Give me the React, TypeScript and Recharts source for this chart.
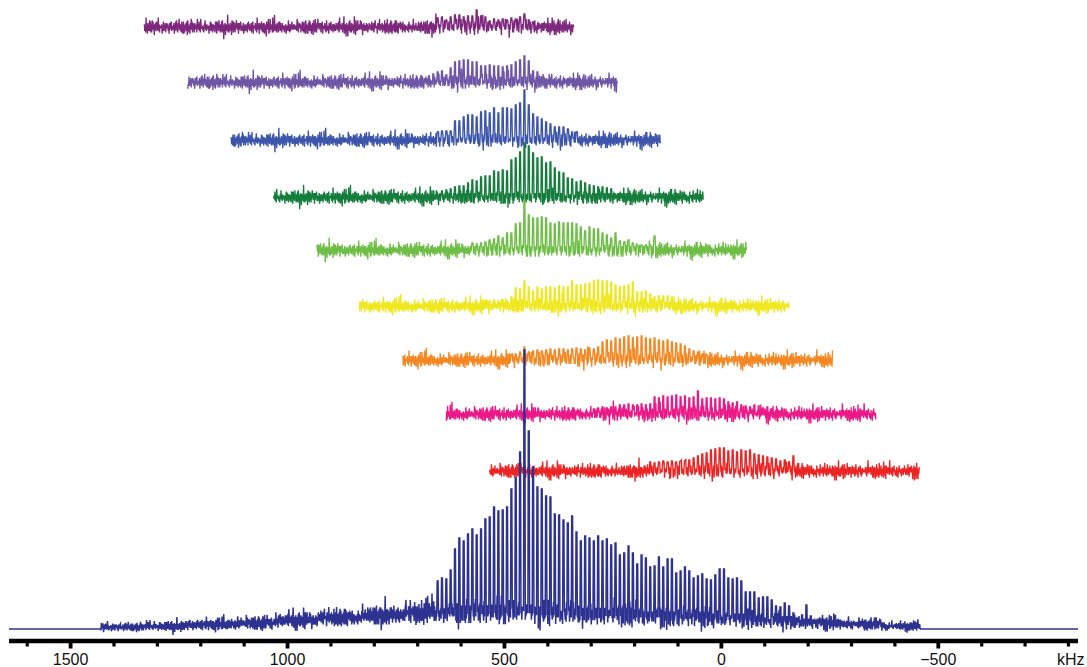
import { LineChart, Line, XAxis, YAxis, Label } from "recharts";

// frequency window of the stack (kHz)
const AXIS_MIN = -822;
const AXIS_MAX = 1642;
const AXIS_TICKS = [
  -800, -700, -600, -500, -400, -300, -200, -100, 0, 100, 200, 300, 400, 500,
  600, 700, 800, 900, 1000, 1100, 1200, 1300, 1400, 1500, 1600,
];

// centre band and spinning sideband spacing (kHz)
const CENTRE_KHZ = 454;
const SPIN_KHZ = 10;

// baseline noise, arbitrary units: fast part and a slower part of another length
const NOISE = [
  2, -3, 1, -4, 4, -1, 2, -5, 3, -2, 1, -3, 5, -2, 0, -4, 2, -3, 3, -1,
  4, -2, 1, -6, 2, -1, 3, -4, 2, 0, 1, -3, 6, -2, 2, -4, 1, -2, 3, -1,
  2, -5, 1, -2, 4, -3, 2, -1, 3, -4, 0, -2, 5, -1, 2, -3, 1, -5, 3, -2,
  2, -1, 4, -3, 1, -4, 2, -2, 3, -5, 1, -1, 2, -3, 4, -2, 1, -4, 3, -1,
  6, -2, 2, -3, 1, -1, 3, -4, 2, -2, 4, -5, 1, -2, 2, -1, 3, -3, 1, -4,
  5, -2, 2, -3, 1, -5, 3, -1, 2, -2, 4, -3, 1, -1, 2, -4, 3, -2, 1, -3,
  2, -5, 4, -1, 1, -2, 3, -3, 2, -4, 6, -1, 2, -2, 1, -3, 3, -4, 2, -1,
  7, -2, 1, -3, 2, -4, 3, -2, 1, -5, 2, -1, 4, -3, 2, -2, 1, -4, 3, -1,
];
const DRIFT = [
  0, 0, 1, 0, -1, 0, 0, 2, 0, 0, -1, 0, 3, 0, 0, -2, 0, 1, 0, 0, -3, 0, 0, 1,
  0, 0, 0, -1, 2, 0, 0, 0, -3, 0, 1, 0, 0, 2, 0, -1, 0, 0, 4, 0, -2, 0, 0,
];

// stacked spectra, top to bottom: start frequency of each window (kHz)
const TRACE_STARTS = [1330, 1230, 1130, 1032, 932, 834, 734, 634, 534];
const TRACE_WIDTH = 990;

// sideband intensities, listed from sideband order FIRST downwards
const PURPLE_FIRST = 20;
const PURPLE_PEAKS = [9, 10, 7, 10, 12, 12, 10, 11, 11, 17, 11, 10, 6, 8, 7, 8, 7, 9, 8, 10, 13, 7, 5];

const LAVENDER_FIRST = 22;
const LAVENDER_PEAKS = [6, 8, 10, 11, 7, 14, 20, 21, 22, 22, 20, 20, 16, 16, 17, 16, 16, 15, 16, 17, 20, 22, 26, 21, 11, 10, 5];

const BLUE_FIRST = 20;
const BLUE_PEAKS = [8, 9, 9, 9, 19, 19, 23, 25, 25, 23, 28, 29, 27, 32, 27, 32, 32, 31, 35, 37, 50, 35, 26, 23, 21, 18, 16, 13, 13, 13, 11, 8, 8];

const GREEN_FIRST = 19;
const GREEN_PEAKS = [6, 7, 8, 10, 11, 11, 14, 17, 16, 20, 21, 21, 26, 25, 27, 26, 37, 39, 45, 54, 51, 44, 39, 40, 34, 35, 29, 25, 24, 19, 18, 15, 16, 14, 12, 11, 10, 10, 9, 8];

const LIME_FIRST = 12;
const LIME_PEAKS = [7, 6, 7, 8, 10, 11, 14, 12, 17, 17, 26, 27, 50, 35, 32, 32, 33, 32, 27, 26, 28, 27, 27, 27, 26, 23, 19, 23, 21, 21, 17, 15, 12, 17, 9, 8, 10, 7, 5, 5, 5, 5, 14];

const YELLOW_FIRST = 9;
const YELLOW_PEAKS = [5, 5, 6, 5, 6, 5, 9, 18, 17, 25, 19, 15, 19, 17, 19, 19, 18, 20, 19, 19, 25, 21, 21, 22, 23, 25, 26, 25, 25, 24, 21, 19, 20, 21, 24, 14, 14, 15, 12, 9, 10, 10, 10, 9];

const ORANGE_FIRST = 3;
const ORANGE_PEAKS = [5, 6, 8, 13, 8, 9, 10, 9, 10, 11, 10, 11, 11, 10, 11, 12, 11, 10, 12, 11, 13, 18, 20, 19, 22, 21, 23, 24, 22, 23, 24, 22, 21, 22, 20, 19, 20, 18, 17, 16, 14, 11, 9, 8, 6, 5];

const PINK_FIRST = -16;
const PINK_PEAKS = [5, 6, 7, 6, 7, 7, 9, 9, 10, 9, 9, 10, 9, 10, 17, 16, 18, 17, 18, 19, 17, 18, 16, 17, 23, 15, 16, 16, 15, 16, 15, 12, 11, 12, 9, 8, 7, 9, 8, 6, 7, 5];

const RED_FIRST = -29;
const RED_PEAKS = [9, 8, 9, 10, 9, 10, 9, 10, 10, 11, 13, 15, 17, 18, 21, 22, 23, 23, 20, 21, 19, 21, 20, 21, 17, 16, 15, 14, 13, 12, 10, 11, 9, 15];

// full spectrum at the bottom
const FULL_START = 1430;
const FULL_END = -458;
const FULL_FIRST = 23;
const FULL_PEAKS = [
  25, 25, 27, 48, 51, 50, 59, 80, 91, 88,
  95, 100, 94, 100, 110, 112, 122, 118, 119, 122,
  140, 151, 177, 279, 198, 162, 142, 140, 133, 132,
  115, 114, 109, 106, 113, 97, 88, 93, 91, 88,
  93, 88, 90, 84, 86, 74, 76, 83, 76, 65,
  74, 71, 62, 63, 72, 62, 70, 70, 56, 58,
  62, 58, 51, 53, 55, 50, 49, 54, 60, 60,
  51, 50, 51, 48, 37, 37, 37, 31, 32, 32,
  29, 23, 22, 26, 23, 16, 11, 14, 24, 13,
];
// broad component and noise level, one value per 100 kHz from FULL_START
const FULL_FLOOR = [2, 3, 4.5, 6, 9, 11.5, 14, 16.5, 17, 18, 16, 15, 13.5, 12, 10.5, 8.5, 6.5, 5, 3];
const FULL_SPREAD = [0.85, 1.0, 1.15, 1.35, 1.55, 1.75, 1.9, 2.1, 2.2, 2.2, 2.2, 2.1, 2.0, 1.85, 1.65, 1.5, 1.3, 1.1, 0.95];

const TRACE_PEAKS = [
  { first: PURPLE_FIRST, peaks: PURPLE_PEAKS },
  { first: LAVENDER_FIRST, peaks: LAVENDER_PEAKS },
  { first: BLUE_FIRST, peaks: BLUE_PEAKS },
  { first: GREEN_FIRST, peaks: GREEN_PEAKS },
  { first: LIME_FIRST, peaks: LIME_PEAKS },
  { first: YELLOW_FIRST, peaks: YELLOW_PEAKS },
  { first: ORANGE_FIRST, peaks: ORANGE_PEAKS },
  { first: PINK_FIRST, peaks: PINK_PEAKS },
  { first: RED_FIRST, peaks: RED_PEAKS },
];

const TRACE_COLORS = ["#7d287d", "#6e55a5", "#3c55aa", "#147d3c", "#6ebe46", "#f0e81e", "#f58723", "#eb1987", "#eb2323"];
const FULL_COLOR = "#2d3291";

// vertical stacking (y units) and chart size
const CHART_W = 1087;
const CHART_H = 667;
const Y_TOP = 641;
const TRACE_BASE = [614, 559, 501, 444, 391, 335, 281, 227, 170];
const FULL_BASE = 12;
const NOISE_GAIN = 1.35;

type Pt = { f: number; v: number };

function buildTrace(
  start: number,
  end: number,
  base: number,
  first: number,
  peaks: number[],
  shift: number,
  floor?: number[],
  spread?: number[]
): Pt[] {
  const peakAt = new Map<number, number>();
  peaks.forEach((h, i) => peakAt.set(CENTRE_KHZ + SPIN_KHZ * (first - i), h));
  const pts: Pt[] = [];
  let n = shift;
  for (let f = start; f >= end; f -= 1) {
    const seg = Math.floor((start - f) / 100);
    const lift = floor ? floor[Math.min(seg, floor.length - 1)] : 0;
    const amp = spread ? spread[Math.min(seg, spread.length - 1)] : NOISE_GAIN;
    // each sideband is a narrow flat-topped line, 2 kHz across
    const h = peakAt.get(f) ?? peakAt.get(f + 1) ?? peakAt.get(f - 1);
    if (h !== undefined) {
      pts.push({ f, v: base + h });
    } else {
      const wiggle = NOISE[n % NOISE.length] + DRIFT[(n * 3) % DRIFT.length];
      pts.push({ f, v: base + lift + wiggle * amp });
    }
    n++;
  }
  return pts;
}

const stacked = TRACE_PEAKS.map((t, i) =>
  buildTrace(TRACE_STARTS[i], TRACE_STARTS[i] - TRACE_WIDTH, TRACE_BASE[i], t.first, t.peaks, i * 41)
);

const full: Pt[] = [
  { f: AXIS_MAX, v: FULL_BASE },
  { f: FULL_START + 1, v: FULL_BASE },
  ...buildTrace(FULL_START, FULL_END, FULL_BASE, FULL_FIRST, FULL_PEAKS, 17, FULL_FLOOR, FULL_SPREAD),
  { f: FULL_END - 1, v: FULL_BASE },
  { f: AXIS_MIN, v: FULL_BASE },
];

const FONT = "'Liberation Sans', Arial, Helvetica, sans-serif";

const AxisTick = (props: any) => {
  const { x, y, payload } = props;
  const value = payload.value as number;
  const major = value % 500 === 0;
  const text = value < 0 ? `\u2212${Math.abs(value)}` : `${value}`;
  return (
    <g>
      <rect
        x={x - (major ? 1.9 : 1.6)}
        y={y}
        width={major ? 3.8 : 3.2}
        height={major ? 7.5 : 5.5}
        fill="#000"
      />
      {major && (
        <text x={x} y={y + 24} textAnchor="middle" fontFamily={FONT} fontSize={16} fill="#111">
          {text}
        </text>
      )}
    </g>
  );
};

const UnitLabel = (props: any) => {
  const { viewBox } = props;
  return (
    <text
      x={viewBox.x + viewBox.width - 21}
      y={viewBox.y + 24}
      fontFamily={FONT}
      fontSize={16}
      fill="#111"
    >
      kHz
    </text>
  );
};

export default function App() {
  return (
    <div style={{ position: "absolute", left: 0, top: 0, background: "#fff" }}>
      <LineChart
        width={CHART_W}
        height={CHART_H}
        margin={{ top: 0, right: 9, bottom: 0, left: 9 }}
      >
        <XAxis
          dataKey="f"
          type="number"
          domain={[AXIS_MIN, AXIS_MAX]}
          reversed
          allowDataOverflow
          ticks={AXIS_TICKS}
          interval={0}
          height={CHART_H - Y_TOP}
          axisLine={{ stroke: "#000", strokeWidth: 4.6 }}
          tickLine={false}
          tickSize={0}
          tickMargin={0}
          tick={<AxisTick />}
        >
          <Label content={<UnitLabel />} />
        </XAxis>
        <YAxis type="number" domain={[0, Y_TOP]} hide allowDataOverflow />
        {stacked.map((data, i) => (
          <Line
            key={`trace-${i}`}
            data={data}
            dataKey="v"
            type="linear"
            stroke={TRACE_COLORS[i]}
            strokeWidth={1.35}
            dot={false}
            activeDot={false}
            isAnimationActive={false}
          />
        ))}
        <Line
          data={full}
          dataKey="v"
          type="linear"
          stroke={FULL_COLOR}
          strokeWidth={1.5}
          dot={false}
          activeDot={false}
          isAnimationActive={false}
        />
      </LineChart>
    </div>
  );
}
